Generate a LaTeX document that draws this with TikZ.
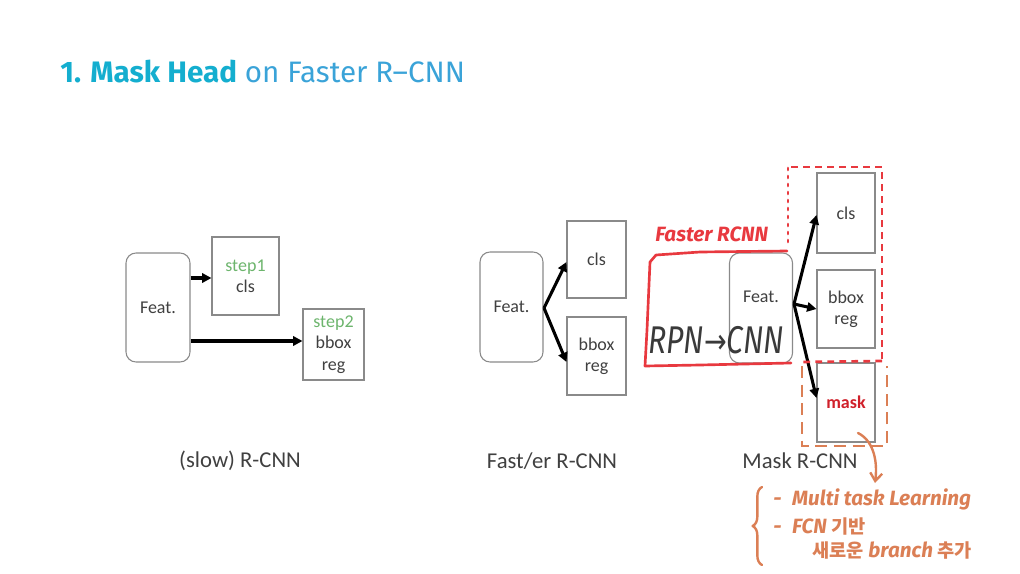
\documentclass[tikz,border=0pt]{standalone}
\usepackage{fontspec}
\setmainfont{Carlito}
\newfontfamily\titlefont{Fira Sans}
\newfontfamily\handfont{Fira Sans}
\newfontfamily\krfont{Noto Sans CJK KR}
\usetikzlibrary{arrows.meta,decorations.pathreplacing}
\definecolor{titlecyan}{HTML}{14AECF}
\definecolor{titleblue}{HTML}{3AA3D8}
\definecolor{boxgray}{HTML}{8A8A8A}
\definecolor{txtgray}{HTML}{404040}
\definecolor{stepgreen}{HTML}{6DB56D}
\definecolor{penred}{HTML}{E8393F}
\definecolor{penorange}{HTML}{DB7F55}
\definecolor{pendark}{HTML}{3A3A3A}
\definecolor{maskred}{HTML}{D0202A}
\tikzset{
  x=0.75pt, y=-0.75pt,
  featbox/.style={draw=boxgray, line width=0.8pt, rounded corners=7.5pt, fill=white},
  headbox/.style={draw=boxgray, line width=0.8pt, fill=white},
  lbl/.style={text=txtgray, font=\fontsize{13.5}{16}\selectfont, align=center},
  caption/.style={text=txtgray, font=\fontsize{17}{19}\selectfont},
  flow/.style={line width=2.3pt, -{Triangle[length=7pt,width=7pt]}},
  redpen/.style={draw=penred, line width=2pt, line cap=round, line join=round},
  reddash/.style={draw=penred, line width=2pt, dash pattern=on 5pt off 4pt},
  reddot/.style={draw=penred, line width=2pt, line cap=round, dash pattern=on 1.5pt off 4.5pt},
  orangedash/.style={draw=penorange, line width=1.8pt, dash pattern=on 9pt off 5pt},
  orangepen/.style={draw=penorange, line width=1.8pt, line cap=round, line join=round},
  orangetxt/.style={text=penorange, font=\handfont\itshape\bfseries\fontsize{15.5}{17}\selectfont, anchor=base west, inner sep=0pt},
}
\newcommand\kr[1]{{\krfont\bfseries\fontsize{14}{15}\selectfont #1}}
\begin{document}
\begin{tikzpicture}
\useasboundingbox (0,0) rectangle (1020,574);

% title
\node[anchor=base west, inner sep=0pt] (title) at (60,83)
  {\titlefont\fontsize{22.2}{25}\selectfont
   \textcolor{titlecyan}{\bfseries 1. Mask Head} \textcolor{titleblue}{on Faster R–CNN}};

% (slow) R-CNN
\node[featbox, minimum width=64*0.75pt, minimum height=109*0.75pt, lbl] (f1) at (158,307.5) {Feat.};
\node[headbox, minimum width=67*0.75pt, minimum height=78*0.75pt, lbl] (c1) at (245.5,276)
  {\textcolor{stepgreen}{step1}\\cls};
\node[headbox, minimum width=61*0.75pt, minimum height=71*0.75pt, lbl] (b1) at (333.5,344.5)
  {\textcolor{stepgreen}{step2}\\bbox\\reg};
\draw[flow] (f1.east |- 0,278) -- (c1.west |- 0,278);
\draw[flow] (f1.east |- 0,341) -- (b1.west |- 0,341);
\node[caption] (cap1) at (240,461) {(slow) R-CNN};

% Fast/er R-CNN
\node[featbox, minimum width=63*0.75pt, minimum height=110*0.75pt, lbl] (f2) at (511.5,307) {Feat.};
\node[headbox, minimum width=59*0.75pt, minimum height=77*0.75pt, lbl] (c2) at (596.5,259.5) {cls};
\node[headbox, minimum width=59*0.75pt, minimum height=78*0.75pt, lbl] (b2) at (596.5,356) {bbox\\reg};
\coordinate (s2) at (544,308);
\draw[flow] (s2) -- (c2.west |- 0,262);
\draw[flow] (s2) -- (b2.west |- 0,362);
\node[caption] (cap2) at (552,461) {Fast/er R-CNN};

% Mask R-CNN
\node[featbox, minimum width=63*0.75pt, minimum height=110*0.75pt, lbl] (f3) at (761,308) {};
\node[lbl] (f3t) at (761,297) {Feat.};
\node[headbox, minimum width=58*0.75pt, minimum height=80*0.75pt, lbl] (c3) at (846,213) {cls};
\node[headbox, minimum width=58*0.75pt, minimum height=78*0.75pt, lbl] (b3) at (846,309) {bbox\\reg};
\node[headbox, minimum width=58*0.75pt, minimum height=79*0.75pt, lbl] (m3) at (846,402.5)
  {\textcolor{maskred}{\bfseries mask}};
\coordinate (s3) at (794,304);
\draw[flow] (s3) -- (c3.west |- 0,215);
\draw[flow] (s3) -- (b3.west |- 0,309);
\draw[flow] (s3) -- (m3.west |- 0,398);
\node[caption] (cap3) at (800,461) {Mask R-CNN};

% red notes: existing heads and the Faster R-CNN part
\draw[reddash] (791,167) -- (882,167) -- (882,360);
\draw[reddash] (882,361) -- (800,362);
\draw[reddot] (788,168) -- (788,247);
\draw[redpen] (787,251) -- (700,252) -- (656,255) -- (650,262) -- (647,330) -- (645,366) -- (700,365) -- (791,363);
\node[text=penred, font=\handfont\itshape\bfseries\fontsize{15.5}{17}\selectfont, anchor=base west, inner sep=0pt]
  (frcnn) at (655,241) {Faster RCNN};
\node[text=pendark, font=\handfont\itshape\fontsize{29}{30}\selectfont, anchor=base west, inner sep=0pt]
  (rpn) at (648,353) {\scalebox{0.78}[1]{RPN{\fontspec{DejaVu Sans}\fontsize{26}{26}\selectfont→}CNN}};

% orange notes: new mask branch
\draw[orangedash] (802,366) -- (802,446) -- (887,446) -- (887,366);
\coordinate (arrowend) at (875,483);
\draw[orangepen, -{Straight Barb[length=6pt,width=9pt]}] (858,433) .. controls (872,440) and (878,458) .. (arrowend);
\draw[orangepen, decorate, decoration={brace, amplitude=7pt}] (762,565) -- (762,487);
\node[orangetxt] (n1) at (773,505) {-\hspace{8pt}Multi task Learning};
\node[orangetxt] (n2) at (773,533) {-\hspace{8pt}FCN \kr{기반}};
\node[orangetxt] (n3) at (812,557) {\kr{새로운} branch \kr{추가}};
\end{tikzpicture}
\end{document}
